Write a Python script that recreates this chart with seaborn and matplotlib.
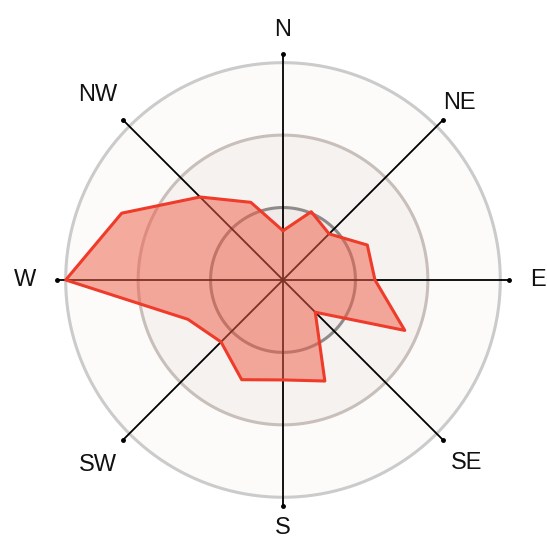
import matplotlib

matplotlib.use("Agg")
import matplotlib.pyplot as plt
import numpy as np
import pandas as pd
import seaborn as sns

# 16-point wind rose, ring spacing = 1 unit
directions = ["N", "NNE", "NE", "ENE", "E", "ESE", "SE", "SSE",
              "S", "SSW", "SW", "WSW", "W", "WNW", "NW", "NNW"]
values = [0.68, 1.02, 0.90, 1.26, 1.27, 1.82, 0.63, 1.51,
          1.38, 1.49, 1.21, 1.42, 3.0, 2.41, 1.62, 1.16]
rings = [3, 2, 1]
compass = ["N", "NE", "E", "SE", "S", "SW", "W", "NW"]

sns.set_theme(style="white")
plt.rcParams["font.family"] = ["Liberation Sans", "DejaVu Sans"]

df = pd.DataFrame({"dir": directions, "value": values})
df["theta"] = np.deg2rad(np.arange(len(df)) * 360 / len(df))
closed = pd.concat([df, df.iloc[:1]], ignore_index=True)

fig = plt.figure(figsize=(5.47, 5.41), dpi=100)
ax = fig.add_axes([0.0274, -0.0129, 0.9799, 0.9908], projection="polar")
ax.set_theta_zero_location("N")
ax.set_theta_direction(-1)

full = np.linspace(0, 2 * np.pi, 361)
disc_fill = {3: "#fcfbfa", 2: "#f5f2f0", 1: "#f0eae8"}
ring_edge = {3: "#cbcbcb", 2: "#c8bfba", 1: "#8e8a8a"}
for r in rings:
    ax.fill_between(full, 0, r, color=disc_fill[r], lw=0, zorder=1)
for r in rings:
    ax.plot(full, np.full_like(full, r), color=ring_edge[r], lw=2.2, zorder=2)

# compass spokes and labels (label distance tuned per side)
label_r = [3.45, 3.45, 3.52, 3.58, 3.43, 3.62, 3.56, 3.62]
for i, name in enumerate(compass):
    t = np.deg2rad(i * 45)
    ax.plot([t, t], [0, 3.12], color="black", lw=1.3, zorder=3)
    ax.plot([t], [3.12], "o", color="black", ms=2.5, zorder=3)
    ax.text(t, label_r[i], name, ha="center", va="center", fontsize=17,
            color="#111111")

ax.fill(closed["theta"], closed["value"], color="#f0604a", alpha=0.52,
        lw=0, zorder=4)
sns.lineplot(data=closed, x="theta", y="value", sort=False, estimator=None,
             color="#ee3b2a", lw=2.2, ax=ax, zorder=5)
ax.set_ylim(0, 3.7)
ax.set_axis_off()

fig.savefig("out.png", dpi=100)
